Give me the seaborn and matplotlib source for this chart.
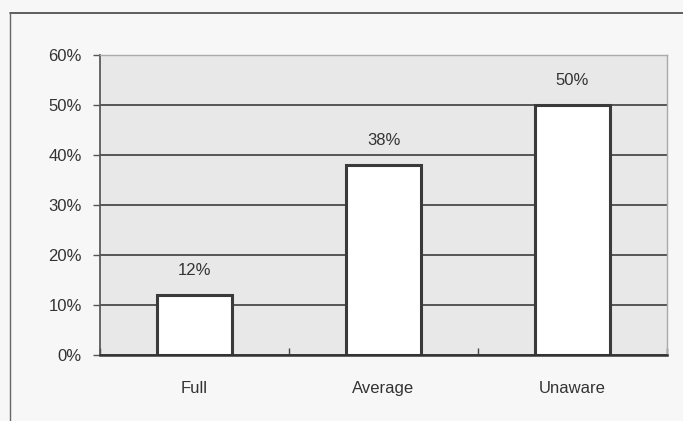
import matplotlib
matplotlib.use("Agg")
import matplotlib.pyplot as plt
import seaborn as sns
import pandas as pd
from matplotlib.lines import Line2D

categories = ["Full", "Average", "Unaware"]
shares = [12, 38, 50]
y_ticks = [0, 10, 20, 30, 40, 50, 60]
y_tick_labels = ["0%", "10%", "20%", "30%", "40%", "50%", "60%"]

df = pd.DataFrame({"category": categories, "share": shares})

sns.set_theme(style="white")
plt.rcParams["font.family"] = ["Liberation Sans", "DejaVu Sans"]

fig = plt.figure(figsize=(6.83, 4.21), dpi=100, facecolor="#f7f7f7")
ax = fig.add_axes([100 / 683, 1 - 355 / 421, 567 / 683, 300 / 421])
ax.set_facecolor("#e8e8e8")

sns.barplot(data=df, x="category", y="share", ax=ax, color="white",
            edgecolor="#3a3a3a", linewidth=2.2, width=0.4, saturation=1)

ax.set_ylim(0, 60)
ax.set_yticks(y_ticks)
ax.set_yticklabels(y_tick_labels)
ax.yaxis.grid(True, color="#4a4a4a", linewidth=1.3)
ax.set_axisbelow(True)
ax.set_xlabel("")
ax.set_ylabel("")

for side in ["top", "right"]:
    ax.spines[side].set_visible(True)
    ax.spines[side].set_color("#aaaaaa")
    ax.spines[side].set_linewidth(1.0)
ax.spines["left"].set_color("#555555")
ax.spines["bottom"].set_color("#333333")
ax.spines["bottom"].set_linewidth(1.8)

ax.tick_params(axis="y", which="both", left=True, length=5, width=1,
               color="#555555", labelsize=12, labelcolor="#333333", pad=8)
ax.tick_params(axis="x", which="both", bottom=False, labelsize=12,
               labelcolor="#333333", pad=13)

# minor ticks on the category axis between groups
ax.set_xticks([-0.5, 0.5, 1.5, 2.5], minor=True)
ax.tick_params(axis="x", which="minor", bottom=True, length=5, width=1,
               color="#444444", direction="in")

for cont in ax.containers:
    ax.bar_label(cont, labels=[f"{v}%" for v in shares], padding=12,
                 fontsize=12, color="#333333")

# outer chart frame (top and left edges)
fig.add_artist(Line2D([10 / 683, 1.0], [1 - 13 / 421, 1 - 13 / 421],
                      transform=fig.transFigure, color="#444444", linewidth=1.2))
fig.add_artist(Line2D([10 / 683, 10 / 683], [0.0, 1 - 13 / 421],
                      transform=fig.transFigure, color="#666666", linewidth=1.0))

fig.savefig("out.png", dpi=100, facecolor=fig.get_facecolor())
